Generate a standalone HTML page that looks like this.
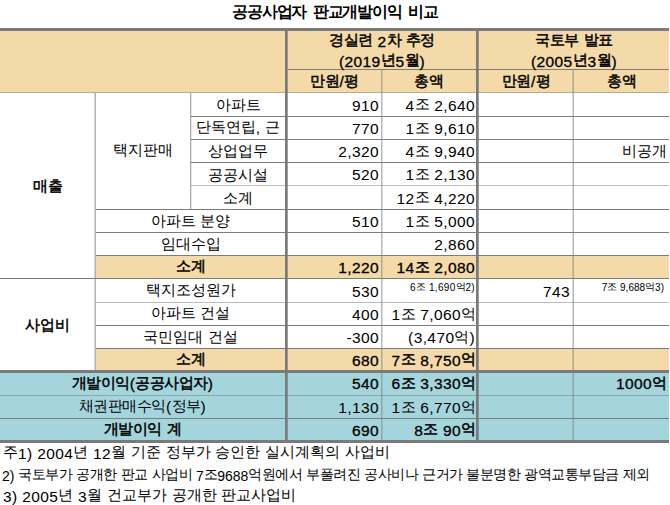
<!DOCTYPE html>
<html><head><meta charset="utf-8"><style>
*{margin:0;padding:0;box-sizing:border-box}
html,body{width:670px;height:505px;overflow:hidden;background:#fff}
body{position:relative;font-family:"Liberation Sans",sans-serif;color:#000}
.r{position:absolute}
.t{position:absolute;display:flex;white-space:nowrap;line-height:1}
.b .la{font-weight:normal;-webkit-text-stroke:0.3px currentColor}
.b .ko{font-weight:normal;-webkit-text-stroke:0.5px currentColor}
</style></head><body>
<div class="r" style="left:0px;top:31px;width:669px;height:61px;background:#f4daa8"></div>
<div class="r" style="left:96px;top:256px;width:573px;height:22px;background:#f4daa8"></div>
<div class="r" style="left:96px;top:349px;width:573px;height:21px;background:#f4daa8"></div>
<div class="r" style="left:0px;top:373px;width:669px;height:67px;background:#a5d5dc"></div>
<div class="r" style="left:288px;top:69px;width:381px;height:1px;background:#7e7c76"></div>
<div class="r" style="left:0px;top:92px;width:669px;height:1px;background:#b8aa8c"></div>
<div class="r" style="left:191px;top:116px;width:478px;height:1px;background:#7c7c7c"></div>
<div class="r" style="left:191px;top:139px;width:478px;height:1px;background:#7c7c7c"></div>
<div class="r" style="left:191px;top:162px;width:478px;height:1px;background:#7c7c7c"></div>
<div class="r" style="left:191px;top:185px;width:478px;height:1px;background:#bebebe"></div>
<div class="r" style="left:96px;top:209px;width:573px;height:1px;background:#7c7c7c"></div>
<div class="r" style="left:96px;top:232px;width:573px;height:1px;background:#7c7c7c"></div>
<div class="r" style="left:96px;top:255px;width:573px;height:1px;background:#7c7c7c"></div>
<div class="r" style="left:0px;top:278px;width:669px;height:1px;background:#7c7c7c"></div>
<div class="r" style="left:96px;top:302px;width:573px;height:1px;background:#bdbdbd"></div>
<div class="r" style="left:96px;top:325px;width:573px;height:1px;background:#7c7c7c"></div>
<div class="r" style="left:96px;top:348px;width:573px;height:1px;background:#7c7c7c"></div>
<div class="r" style="left:0px;top:395px;width:669px;height:1px;background:rgba(128,128,128,0.55)"></div>
<div class="r" style="left:0px;top:418px;width:669px;height:1px;background:#7c7c7c"></div>
<div class="r" style="left:95px;top:93px;width:1px;height:277px;background:rgba(128,128,128,0.59)"></div>
<div class="r" style="left:94px;top:93px;width:1px;height:277px;background:rgba(128,128,128,0.32)"></div>
<div class="r" style="left:190px;top:93px;width:1px;height:116px;background:rgba(128,128,128,0.70)"></div>
<div class="r" style="left:191px;top:93px;width:1px;height:116px;background:rgba(128,128,128,0.18)"></div>
<div class="r" style="left:381px;top:70px;width:1px;height:370px;background:rgba(128,128,128,0.56)"></div>
<div class="r" style="left:382px;top:70px;width:1px;height:370px;background:rgba(128,128,128,0.28)"></div>
<div class="r" style="left:573px;top:70px;width:1px;height:370px;background:rgba(128,128,128,0.56)"></div>
<div class="r" style="left:572px;top:70px;width:1px;height:370px;background:rgba(128,128,128,0.3)"></div>
<div class="r" style="left:285px;top:28px;width:2px;height:415px;background:#7a7a7a"></div>
<div class="r" style="left:287px;top:31px;width:1px;height:409px;background:rgba(118,118,118,0.7)"></div>
<div class="r" style="left:476px;top:28px;width:2px;height:415px;background:#7a7a7a"></div>
<div class="r" style="left:478px;top:31px;width:1px;height:409px;background:rgba(118,118,118,0.7)"></div>
<div class="r" style="left:0px;top:28px;width:669px;height:3px;background:#7a7a7a"></div>
<div class="r" style="left:0px;top:370px;width:669px;height:3px;background:#7a7a7a"></div>
<div class="r" style="left:0px;top:440px;width:669px;height:3px;background:#7a7a7a"></div>
<div class="t" style="left:0;top:0;width:670px;height:26px;justify-content:center;align-items:center;font-weight:bold"><span style="word-spacing:1.5px"><span class="ko" style="font-size:16px;position:relative;top:-1.5px;letter-spacing:-1.2px">공공사업자</span><span class="la" style="font-size:16.5px;letter-spacing:0.4px"> </span><span class="ko" style="font-size:16px;position:relative;top:-1.5px;letter-spacing:-1.2px">판교개발이익</span><span class="la" style="font-size:16.5px;letter-spacing:0.4px"> </span><span class="ko" style="font-size:16px;position:relative;top:-1.5px;letter-spacing:-1.2px">비교</span></span></div>
<div class="t  b" style="left:288px;top:32px;width:188px;height:19px;justify-content:center;align-items:center;font-weight:bold;color:#000"><span><span class="ko" style="font-size:15.0px;position:relative;top:-1.5px;letter-spacing:-0.5px">경실련</span><span class="la" style="font-size:15.5px;letter-spacing:0.4px"> 2</span><span class="ko" style="font-size:15.0px;position:relative;top:-1.5px;letter-spacing:-0.5px">차</span><span class="la" style="font-size:15.5px;letter-spacing:0.4px"> </span><span class="ko" style="font-size:15.0px;position:relative;top:-1.5px;letter-spacing:-0.5px">추정</span></span></div>
<div class="t  b" style="left:288px;top:52px;width:188px;height:19px;justify-content:center;align-items:center;font-weight:bold;color:#000"><span><span class="la" style="font-size:15.5px;letter-spacing:0.4px">(2019</span><span class="ko" style="font-size:15.0px;position:relative;top:-1.5px">년</span><span class="la" style="font-size:15.5px;letter-spacing:0.4px">5</span><span class="ko" style="font-size:15.0px;position:relative;top:-1.5px">월</span><span class="la" style="font-size:15.5px;letter-spacing:0.4px">)</span></span></div>
<div class="t  b" style="left:479px;top:32px;width:190px;height:19px;justify-content:center;align-items:center;font-weight:bold;color:#000"><span><span class="ko" style="font-size:15.0px;position:relative;top:-1.5px;letter-spacing:-0.5px">국토부</span><span class="la" style="font-size:15.5px;letter-spacing:0.4px"> </span><span class="ko" style="font-size:15.0px;position:relative;top:-1.5px;letter-spacing:-0.5px">발표</span></span></div>
<div class="t  b" style="left:479px;top:52px;width:190px;height:19px;justify-content:center;align-items:center;font-weight:bold;color:#000"><span><span class="la" style="font-size:15.5px;letter-spacing:0.4px">(2005</span><span class="ko" style="font-size:15.0px;position:relative;top:-1.5px">년</span><span class="la" style="font-size:15.5px;letter-spacing:0.4px">3</span><span class="ko" style="font-size:15.0px;position:relative;top:-1.5px">월</span><span class="la" style="font-size:15.5px;letter-spacing:0.4px">)</span></span></div>
<div class="t  b" style="left:288px;top:71px;width:93px;height:22px;justify-content:center;align-items:center;font-weight:bold;color:#000"><span><span class="ko" style="font-size:15.0px;position:relative;top:-1.5px;letter-spacing:-0.5px">만원</span><span class="la" style="font-size:15.5px;letter-spacing:0.4px">/</span><span class="ko" style="font-size:15.0px;position:relative;top:-1.5px;letter-spacing:-0.5px">평</span></span></div>
<div class="t  b" style="left:382px;top:71px;width:94px;height:22px;justify-content:center;align-items:center;font-weight:bold;color:#000"><span><span class="ko" style="font-size:15.0px;position:relative;top:-1.5px">총액</span></span></div>
<div class="t  b" style="left:479px;top:71px;width:94px;height:22px;justify-content:center;align-items:center;font-weight:bold;color:#000"><span><span class="ko" style="font-size:15.0px;position:relative;top:-1.5px;letter-spacing:-0.5px">만원</span><span class="la" style="font-size:15.5px;letter-spacing:0.4px">/</span><span class="ko" style="font-size:15.0px;position:relative;top:-1.5px;letter-spacing:-0.5px">평</span></span></div>
<div class="t  b" style="left:574px;top:71px;width:95px;height:22px;justify-content:center;align-items:center;font-weight:bold;color:#000"><span><span class="ko" style="font-size:15.0px;position:relative;top:-1.5px">총액</span></span></div>
<div class="t " style="left:191px;top:95px;width:94px;height:23px;justify-content:center;align-items:center;font-weight:normal;color:#000"><span><span class="ko" style="font-size:15.0px;position:relative;top:-1.5px">아파트</span></span></div>
<div class="t " style="left:191px;top:117px;width:94px;height:22px;justify-content:center;align-items:center;font-weight:normal;color:#000"><span><span class="ko" style="font-size:15.0px;position:relative;top:-1.5px">단독연립</span><span class="la" style="font-size:15.5px;letter-spacing:0.4px">, </span><span class="ko" style="font-size:15.0px;position:relative;top:-1.5px">근</span></span></div>
<div class="t " style="left:191px;top:141px;width:94px;height:22px;justify-content:center;align-items:center;font-weight:normal;color:#000"><span><span class="ko" style="font-size:15.0px;position:relative;top:-1.5px">상업업무</span></span></div>
<div class="t " style="left:191px;top:165px;width:94px;height:22px;justify-content:center;align-items:center;font-weight:normal;color:#000"><span><span class="ko" style="font-size:15.0px;position:relative;top:-1.5px">공공시설</span></span></div>
<div class="t " style="left:191px;top:188px;width:94px;height:23px;justify-content:center;align-items:center;font-weight:normal;color:#000"><span><span class="ko" style="font-size:15.0px;position:relative;top:-1.5px">소계</span></span></div>
<div class="t " style="left:96px;top:211px;width:189px;height:22px;justify-content:center;align-items:center;font-weight:normal;color:#000"><span><span class="ko" style="font-size:15.0px;position:relative;top:-1.5px">아파트</span><span class="la" style="font-size:15.5px;letter-spacing:0.4px"> </span><span class="ko" style="font-size:15.0px;position:relative;top:-1.5px">분양</span></span></div>
<div class="t " style="left:96px;top:234px;width:189px;height:22px;justify-content:center;align-items:center;font-weight:normal;color:#000"><span><span class="ko" style="font-size:15.0px;position:relative;top:-1.5px">임대수입</span></span></div>
<div class="t  b" style="left:96px;top:256px;width:189px;height:22px;justify-content:center;align-items:center;font-weight:bold;color:#000"><span><span class="ko" style="font-size:15.0px;position:relative;top:-1.5px;letter-spacing:-0.5px">소계</span></span></div>
<div class="t " style="left:96px;top:280px;width:189px;height:23px;justify-content:center;align-items:center;font-weight:normal;color:#000"><span><span class="ko" style="font-size:15.0px;position:relative;top:-1.5px">택지조성원가</span></span></div>
<div class="t " style="left:96px;top:303px;width:189px;height:22px;justify-content:center;align-items:center;font-weight:normal;color:#000"><span><span class="ko" style="font-size:15.0px;position:relative;top:-1.5px">아파트</span><span class="la" style="font-size:15.5px;letter-spacing:0.4px"> </span><span class="ko" style="font-size:15.0px;position:relative;top:-1.5px">건설</span></span></div>
<div class="t " style="left:96px;top:327px;width:189px;height:22px;justify-content:center;align-items:center;font-weight:normal;color:#000"><span><span class="ko" style="font-size:15.0px;position:relative;top:-1.5px">국민임대</span><span class="la" style="font-size:15.5px;letter-spacing:0.4px"> </span><span class="ko" style="font-size:15.0px;position:relative;top:-1.5px">건설</span></span></div>
<div class="t  b" style="left:96px;top:350px;width:189px;height:21px;justify-content:center;align-items:center;font-weight:bold;color:#000"><span><span class="ko" style="font-size:15.0px;position:relative;top:-1.5px;letter-spacing:-0.5px">소계</span></span></div>
<div class="t  b" style="left:0px;top:372px;width:285px;height:24px;justify-content:center;align-items:center;font-weight:bold;color:#000"><span><span class="ko" style="font-size:15.0px;position:relative;top:-1.5px;letter-spacing:-0.5px">개발이익</span><span class="la" style="font-size:15.5px;letter-spacing:0.4px">(</span><span class="ko" style="font-size:15.0px;position:relative;top:-1.5px;letter-spacing:-0.5px">공공사업자</span><span class="la" style="font-size:15.5px;letter-spacing:0.4px">)</span></span></div>
<div class="t " style="left:0px;top:396px;width:285px;height:22px;justify-content:center;align-items:center;font-weight:normal;color:#000"><span><span class="ko" style="font-size:15.0px;position:relative;top:-1.5px;letter-spacing:-0.5px">채권판매수익</span><span class="la" style="font-size:15.5px;letter-spacing:0.4px">(</span><span class="ko" style="font-size:15.0px;position:relative;top:-1.5px;letter-spacing:-0.5px">정부</span><span class="la" style="font-size:15.5px;letter-spacing:0.4px">)</span></span></div>
<div class="t  b" style="left:0px;top:420px;width:285px;height:21px;justify-content:center;align-items:center;font-weight:bold;color:#000"><span><span class="ko" style="font-size:15.0px;position:relative;top:-1.5px;letter-spacing:-0.5px">개발이익</span><span class="la" style="font-size:15.5px;letter-spacing:0.4px"> </span><span class="ko" style="font-size:15.0px;position:relative;top:-1.5px;letter-spacing:-0.5px">계</span></span></div>
<div class="t " style="left:96px;top:94px;width:94px;height:115px;justify-content:center;align-items:center;font-weight:normal;color:#000"><span><span class="ko" style="font-size:15.0px;position:relative;top:-1.5px">택지판매</span></span></div>
<div class="t  b" style="left:0px;top:95px;width:95px;height:184px;justify-content:center;align-items:center;font-weight:bold;color:#000"><span><span class="ko" style="font-size:15.0px;position:relative;top:-1.5px">매출</span></span></div>
<div class="t  b" style="left:0px;top:281px;width:95px;height:90px;justify-content:center;align-items:center;font-weight:bold;color:#000"><span><span class="ko" style="font-size:15.0px;position:relative;top:-1.5px">사업비</span></span></div>
<div class="t " style="left:288px;top:94px;width:91px;height:23px;justify-content:flex-end;align-items:center;font-weight:normal;color:#000"><span><span class="la" style="font-size:15.5px;letter-spacing:0.4px">910</span></span></div>
<div class="t " style="left:382px;top:94px;width:93px;height:23px;justify-content:flex-end;align-items:center;font-weight:normal;color:#000"><span><span class="la" style="font-size:15.5px;letter-spacing:0.4px">4</span><span class="ko" style="font-size:15.0px;position:relative;top:-1.5px">조</span><span class="la" style="font-size:15.5px;letter-spacing:0.4px"> 2,640</span></span></div>
<div class="t " style="left:288px;top:118px;width:91px;height:22px;justify-content:flex-end;align-items:center;font-weight:normal;color:#000"><span><span class="la" style="font-size:15.5px;letter-spacing:0.4px">770</span></span></div>
<div class="t " style="left:382px;top:118px;width:93px;height:22px;justify-content:flex-end;align-items:center;font-weight:normal;color:#000"><span><span class="la" style="font-size:15.5px;letter-spacing:0.4px">1</span><span class="ko" style="font-size:15.0px;position:relative;top:-1.5px">조</span><span class="la" style="font-size:15.5px;letter-spacing:0.4px"> 9,610</span></span></div>
<div class="t " style="left:288px;top:141px;width:91px;height:22px;justify-content:flex-end;align-items:center;font-weight:normal;color:#000"><span><span class="la" style="font-size:15.5px;letter-spacing:0.4px">2,320</span></span></div>
<div class="t " style="left:382px;top:141px;width:93px;height:22px;justify-content:flex-end;align-items:center;font-weight:normal;color:#000"><span><span class="la" style="font-size:15.5px;letter-spacing:0.4px">4</span><span class="ko" style="font-size:15.0px;position:relative;top:-1.5px">조</span><span class="la" style="font-size:15.5px;letter-spacing:0.4px"> 9,940</span></span></div>
<div class="t " style="left:288px;top:164px;width:91px;height:22px;justify-content:flex-end;align-items:center;font-weight:normal;color:#000"><span><span class="la" style="font-size:15.5px;letter-spacing:0.4px">520</span></span></div>
<div class="t " style="left:382px;top:164px;width:93px;height:22px;justify-content:flex-end;align-items:center;font-weight:normal;color:#000"><span><span class="la" style="font-size:15.5px;letter-spacing:0.4px">1</span><span class="ko" style="font-size:15.0px;position:relative;top:-1.5px">조</span><span class="la" style="font-size:15.5px;letter-spacing:0.4px"> 2,130</span></span></div>
<div class="t " style="left:382px;top:187px;width:93px;height:23px;justify-content:flex-end;align-items:center;font-weight:normal;color:#000"><span><span class="la" style="font-size:15.5px;letter-spacing:0.4px">12</span><span class="ko" style="font-size:15.0px;position:relative;top:-1.5px">조</span><span class="la" style="font-size:15.5px;letter-spacing:0.4px"> 4,220</span></span></div>
<div class="t " style="left:288px;top:211px;width:91px;height:22px;justify-content:flex-end;align-items:center;font-weight:normal;color:#000"><span><span class="la" style="font-size:15.5px;letter-spacing:0.4px">510</span></span></div>
<div class="t " style="left:382px;top:211px;width:93px;height:22px;justify-content:flex-end;align-items:center;font-weight:normal;color:#000"><span><span class="la" style="font-size:15.5px;letter-spacing:0.4px">1</span><span class="ko" style="font-size:15.0px;position:relative;top:-1.5px">조</span><span class="la" style="font-size:15.5px;letter-spacing:0.4px"> 5,000</span></span></div>
<div class="t " style="left:382px;top:234px;width:93px;height:22px;justify-content:flex-end;align-items:center;font-weight:normal;color:#000"><span><span class="la" style="font-size:15.5px;letter-spacing:0.4px">2,860</span></span></div>
<div class="t  b" style="left:288px;top:257px;width:91px;height:22px;justify-content:flex-end;align-items:center;font-weight:bold;color:#000"><span><span class="la" style="font-size:15.5px;letter-spacing:0.4px">1,220</span></span></div>
<div class="t  b" style="left:382px;top:257px;width:93px;height:22px;justify-content:flex-end;align-items:center;font-weight:bold;color:#000"><span><span class="la" style="font-size:15.5px;letter-spacing:0.4px">14</span><span class="ko" style="font-size:15.0px;position:relative;top:-1.5px">조</span><span class="la" style="font-size:15.5px;letter-spacing:0.4px"> 2,080</span></span></div>
<div class="t " style="left:288px;top:280px;width:91px;height:23px;justify-content:flex-end;align-items:center;font-weight:normal;color:#000"><span><span class="la" style="font-size:15.5px;letter-spacing:0.4px">530</span></span></div>
<div class="t " style="left:288px;top:304px;width:91px;height:22px;justify-content:flex-end;align-items:center;font-weight:normal;color:#000"><span><span class="la" style="font-size:15.5px;letter-spacing:0.4px">400</span></span></div>
<div class="t " style="left:382px;top:304px;width:94px;height:22px;justify-content:flex-end;align-items:center;font-weight:normal;color:#000"><span><span class="la" style="font-size:15.5px;letter-spacing:0.4px">1</span><span class="ko" style="font-size:15.0px;position:relative;top:-1.5px">조</span><span class="la" style="font-size:15.5px;letter-spacing:0.4px"> 7,060</span><span class="ko" style="font-size:15.0px;position:relative;top:-1.5px">억</span></span></div>
<div class="t " style="left:288px;top:327px;width:91px;height:22px;justify-content:flex-end;align-items:center;font-weight:normal;color:#000"><span><span class="la" style="font-size:15.5px;letter-spacing:0.4px">-300</span></span></div>
<div class="t " style="left:382px;top:327px;width:93px;height:22px;justify-content:flex-end;align-items:center;font-weight:normal;color:#000"><span><span class="la" style="font-size:15.5px;letter-spacing:0.4px">(3,470</span><span class="ko" style="font-size:15.0px;position:relative;top:-1.5px">억</span><span class="la" style="font-size:15.5px;letter-spacing:0.4px">)</span></span></div>
<div class="t  b" style="left:288px;top:350px;width:91px;height:21px;justify-content:flex-end;align-items:center;font-weight:bold;color:#000"><span><span class="la" style="font-size:15.5px;letter-spacing:0.4px">680</span></span></div>
<div class="t  b" style="left:382px;top:350px;width:94px;height:21px;justify-content:flex-end;align-items:center;font-weight:bold;color:#000"><span><span class="la" style="font-size:15.5px;letter-spacing:0.4px">7</span><span class="ko" style="font-size:15.0px;position:relative;top:-1.5px">조</span><span class="la" style="font-size:15.5px;letter-spacing:0.4px"> 8,750</span><span class="ko" style="font-size:15.0px;position:relative;top:-1.5px">억</span></span></div>
<div class="t  b" style="left:288px;top:372px;width:91px;height:24px;justify-content:flex-end;align-items:center;font-weight:bold;color:#000"><span><span class="la" style="font-size:15.5px;letter-spacing:0.4px">540</span></span></div>
<div class="t  b" style="left:382px;top:372px;width:94px;height:24px;justify-content:flex-end;align-items:center;font-weight:bold;color:#000"><span><span class="la" style="font-size:15.5px;letter-spacing:0.4px">6</span><span class="ko" style="font-size:15.0px;position:relative;top:-1.5px">조</span><span class="la" style="font-size:15.5px;letter-spacing:0.4px"> 3,330</span><span class="ko" style="font-size:15.0px;position:relative;top:-1.5px">억</span></span></div>
<div class="t " style="left:288px;top:397px;width:91px;height:22px;justify-content:flex-end;align-items:center;font-weight:normal;color:#000"><span><span class="la" style="font-size:15.5px;letter-spacing:0.4px">1,130</span></span></div>
<div class="t " style="left:382px;top:397px;width:94px;height:22px;justify-content:flex-end;align-items:center;font-weight:normal;color:#000"><span><span class="la" style="font-size:15.5px;letter-spacing:0.4px">1</span><span class="ko" style="font-size:15.0px;position:relative;top:-1.5px">조</span><span class="la" style="font-size:15.5px;letter-spacing:0.4px"> 6,770</span><span class="ko" style="font-size:15.0px;position:relative;top:-1.5px">억</span></span></div>
<div class="t  b" style="left:288px;top:420px;width:91px;height:21px;justify-content:flex-end;align-items:center;font-weight:bold;color:#000"><span><span class="la" style="font-size:15.5px;letter-spacing:0.4px">690</span></span></div>
<div class="t  b" style="left:382px;top:420px;width:94px;height:21px;justify-content:flex-end;align-items:center;font-weight:bold;color:#000"><span><span class="la" style="font-size:15.5px;letter-spacing:0.4px">8</span><span class="ko" style="font-size:15.0px;position:relative;top:-1.5px">조</span><span class="la" style="font-size:15.5px;letter-spacing:0.4px"> 90</span><span class="ko" style="font-size:15.0px;position:relative;top:-1.5px">억</span></span></div>
<div class="t " style="left:574px;top:141px;width:93px;height:22px;justify-content:flex-end;align-items:center;font-weight:normal;color:#000"><span><span class="ko" style="font-size:15.0px;position:relative;top:-1.5px">비공개</span></span></div>
<div class="t " style="left:479px;top:280px;width:91px;height:23px;justify-content:flex-end;align-items:center;font-weight:normal;color:#000"><span><span class="la" style="font-size:15.5px;letter-spacing:0.4px">743</span></span></div>
<div class="t  b" style="left:574px;top:372px;width:93px;height:24px;justify-content:flex-end;align-items:center;font-weight:bold;color:#000"><span><span class="la" style="font-size:15.5px;letter-spacing:0.4px">1000</span><span class="ko" style="font-size:15.0px;position:relative;top:-1.5px">억</span></span></div>
<div class="t " style="left:382px;top:278px;width:93px;height:13px;justify-content:flex-end;align-items:flex-start;font-weight:normal;color:#000"><span><span class="la" style="font-size:10px;letter-spacing:0.3px">6</span><span class="ko" style="font-size:9.6px;position:relative;top:-1px">조</span><span class="la" style="font-size:10px;letter-spacing:0.3px"> 1,690</span><span class="ko" style="font-size:9.6px;position:relative;top:-1px">억</span><span class="la" style="font-size:10px;letter-spacing:0.3px">2)</span></span></div>
<div class="t " style="left:574px;top:278px;width:90px;height:13px;justify-content:flex-end;align-items:flex-start;font-weight:normal;color:#000"><span><span class="la" style="font-size:10px">7</span><span class="ko" style="font-size:9.6px;position:relative;top:-1px">조</span><span class="la" style="font-size:10px"> 9,688</span><span class="ko" style="font-size:9.6px;position:relative;top:-1px">억</span><span class="la" style="font-size:10px">3)</span></span></div>
<div class="t " style="left:3px;top:444px;width:666px;height:19px;justify-content:flex-start;align-items:center;font-weight:normal;color:#000"><span><span class="ko" style="font-size:15.0px;position:relative;top:-1.5px">주</span><span class="la" style="font-size:15.5px;letter-spacing:0.4px">1) 2004</span><span class="ko" style="font-size:15.0px;position:relative;top:-1.5px">년</span><span class="la" style="font-size:15.5px;letter-spacing:0.4px"> 12</span><span class="ko" style="font-size:15.0px;position:relative;top:-1.5px">월</span><span class="la" style="font-size:15.5px;letter-spacing:0.4px"> </span><span class="ko" style="font-size:15.0px;position:relative;top:-1.5px">기준</span><span class="la" style="font-size:15.5px;letter-spacing:0.4px"> </span><span class="ko" style="font-size:15.0px;position:relative;top:-1.5px">정부가</span><span class="la" style="font-size:15.5px;letter-spacing:0.4px"> </span><span class="ko" style="font-size:15.0px;position:relative;top:-1.5px">승인한</span><span class="la" style="font-size:15.5px;letter-spacing:0.4px"> </span><span class="ko" style="font-size:15.0px;position:relative;top:-1.5px">실시계획의</span><span class="la" style="font-size:15.5px;letter-spacing:0.4px"> </span><span class="ko" style="font-size:15.0px;position:relative;top:-1.5px">사업비</span></span></div>
<div class="t " style="left:2px;top:467px;width:667px;height:17px;justify-content:flex-start;align-items:center;font-weight:normal;color:#000"><span><span class="la" style="font-size:14px">2) </span><span class="ko" style="font-size:14px;position:relative;top:-1.5px;letter-spacing:-0.5px">국토부가</span><span class="la" style="font-size:14px"> </span><span class="ko" style="font-size:14px;position:relative;top:-1.5px;letter-spacing:-0.5px">공개한</span><span class="la" style="font-size:14px"> </span><span class="ko" style="font-size:14px;position:relative;top:-1.5px;letter-spacing:-0.5px">판교</span><span class="la" style="font-size:14px"> </span><span class="ko" style="font-size:14px;position:relative;top:-1.5px;letter-spacing:-0.5px">사업비</span><span class="la" style="font-size:14px"> 7</span><span class="ko" style="font-size:14px;position:relative;top:-1.5px;letter-spacing:-0.5px">조</span><span class="la" style="font-size:14px">9688</span><span class="ko" style="font-size:14px;position:relative;top:-1.5px;letter-spacing:-0.5px">억원에서</span><span class="la" style="font-size:14px"> </span><span class="ko" style="font-size:14px;position:relative;top:-1.5px;letter-spacing:-0.5px">부풀려진</span><span class="la" style="font-size:14px"> </span><span class="ko" style="font-size:14px;position:relative;top:-1.5px;letter-spacing:-0.5px">공사비나</span><span class="la" style="font-size:14px"> </span><span class="ko" style="font-size:14px;position:relative;top:-1.5px;letter-spacing:-0.5px">근거가</span><span class="la" style="font-size:14px"> </span><span class="ko" style="font-size:14px;position:relative;top:-1.5px;letter-spacing:-0.5px">불분명한</span><span class="la" style="font-size:14px"> </span><span class="ko" style="font-size:14px;position:relative;top:-1.5px;letter-spacing:-0.5px">광역교통부담금</span><span class="la" style="font-size:14px"> </span><span class="ko" style="font-size:14px;position:relative;top:-1.5px;letter-spacing:-0.5px">제외</span></span></div>
<div class="t " style="left:3px;top:488px;width:666px;height:17px;justify-content:flex-start;align-items:center;font-weight:normal;color:#000"><span><span class="la" style="font-size:15.5px;letter-spacing:0.4px">3) 2005</span><span class="ko" style="font-size:15.0px;position:relative;top:-1.5px">년</span><span class="la" style="font-size:15.5px;letter-spacing:0.4px"> 3</span><span class="ko" style="font-size:15.0px;position:relative;top:-1.5px">월</span><span class="la" style="font-size:15.5px;letter-spacing:0.4px"> </span><span class="ko" style="font-size:15.0px;position:relative;top:-1.5px">건교부가</span><span class="la" style="font-size:15.5px;letter-spacing:0.4px"> </span><span class="ko" style="font-size:15.0px;position:relative;top:-1.5px">공개한</span><span class="la" style="font-size:15.5px;letter-spacing:0.4px"> </span><span class="ko" style="font-size:15.0px;position:relative;top:-1.5px">판교사업비</span></span></div>
</body></html>
